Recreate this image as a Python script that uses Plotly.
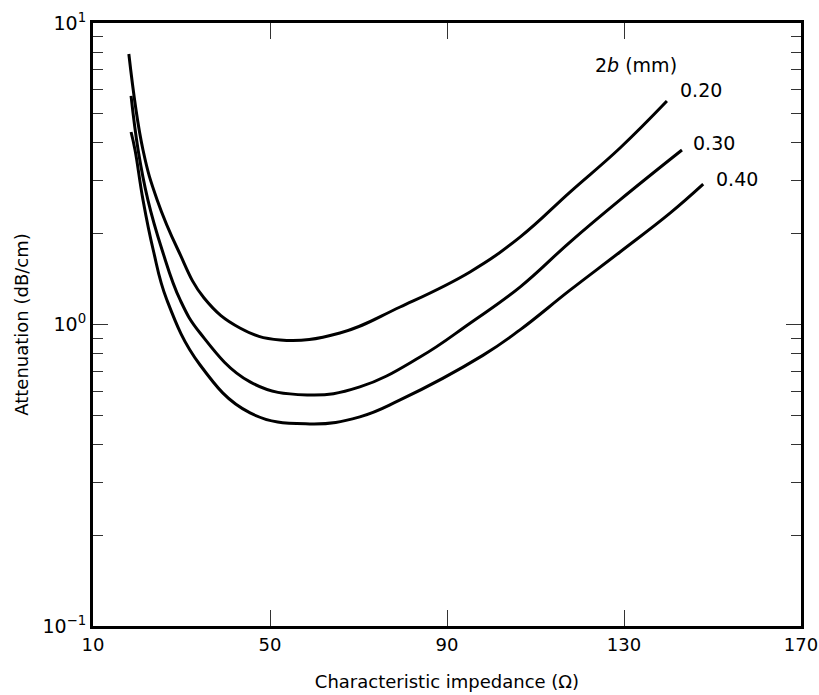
import plotly.graph_objects as go

# Characteristic impedance (ohm) and attenuation (dB/cm)
z_020 = [18.1, 21.3, 24.5, 29.2, 35.1, 43.2, 52.3, 65.8, 79.4, 95.2, 106.5, 117.8, 129.1, 139.7]
a_020 = [7.89, 3.79, 2.59, 1.77, 1.224, 0.974, 0.888, 0.937, 1.143, 1.494, 1.95, 2.75, 3.85, 5.51]

z_030 = [18.6, 20.2, 22.4, 25.6, 29.7, 34.2, 45.5, 58.4, 70.3, 83.9, 95.2, 106.5, 117.8, 129.1, 143.1]
a_030 = [5.73, 3.79, 2.59, 1.77, 1.206, 0.937, 0.645, 0.584, 0.621, 0.780, 1.01, 1.331, 1.877, 2.59, 3.79]

z_040 = [18.6, 19.5, 21.3, 23.6, 26.7, 34.2, 45.5, 59.0, 70.3, 79.4, 98.1, 106.5, 117.8, 129.1, 140.4, 147.9]
a_040 = [4.35, 3.79, 2.59, 1.77, 1.206, 0.734, 0.509, 0.468, 0.494, 0.562, 0.79, 0.96, 1.30, 1.74, 2.34, 2.92]

series = [("0.20", z_020, a_020), ("0.30", z_030, a_030), ("0.40", z_040, a_040)]

x_ticks = [10, 50, 90, 130, 170]
y_major = [0.1, 1, 10]
y_major_text = ["10<sup>−1</sup>", "10<sup>0</sup>", "10<sup>1</sup>"]
y_minor = [k * 0.1 for k in range(2, 10)] + [k * 1.0 for k in range(2, 10)]

FONT = "DejaVu Sans, Arial, sans-serif"

fig = go.Figure()
for name, zs, aa in series:
    fig.add_trace(go.Scatter(x=zs, y=aa, mode="lines", name=name,
                             line=dict(color="black", width=3, shape="spline", smoothing=1.2),
                             showlegend=False, hoverinfo="skip"))

fig.update_layout(
    width=819, height=695,
    margin=dict(l=93, r=18, t=23, b=69),
    paper_bgcolor="white", plot_bgcolor="white",
    font=dict(family=FONT, size=17, color="black"),
)

fig.update_xaxes(
    range=[10, 170], tickvals=x_ticks, ticktext=[str(v) for v in x_ticks],
    ticks="inside", ticklen=16, tickwidth=1, tickcolor="#333",
    showline=True, linecolor="black", linewidth=3, mirror="ticks",
    showgrid=False, zeroline=False, automargin=False,
    title=dict(text="Characteristic impedance (Ω)", font=dict(size=18), standoff=22),
    tickfont=dict(size=18),
)

fig.update_yaxes(
    type="log", range=[-1, 1], tickvals=y_major, ticktext=y_major_text,
    ticks="inside", ticklen=15, tickwidth=1, tickcolor="#333",
    minor=dict(tickvals=y_minor, ticks="inside", ticklen=10, tickwidth=1, tickcolor="#333", showgrid=False),
    showline=True, linecolor="black", linewidth=3, mirror="ticks",
    showgrid=False, zeroline=False, automargin=False,
    title=dict(text="Attenuation (dB/cm)", font=dict(size=18), standoff=10),
    tickfont=dict(size=19),
)

# curve labels
label_pos = [("2<i>b</i> (mm)", 132.7, 0.861), ("0.20", 147.4, 0.778), ("0.30", 150.3, 0.602), ("0.40", 155.5, 0.483)]
for txt, lx, ly in label_pos:
    fig.add_annotation(x=lx, y=ly, xref="x", yref="y", text=txt, showarrow=False,
                       font=dict(size=19, family=FONT, color="black"))

fig.write_html("out.html", config={"displayModeBar": False},
               post_script="document.body.style.margin='0';document.body.style.overflow='hidden';")
